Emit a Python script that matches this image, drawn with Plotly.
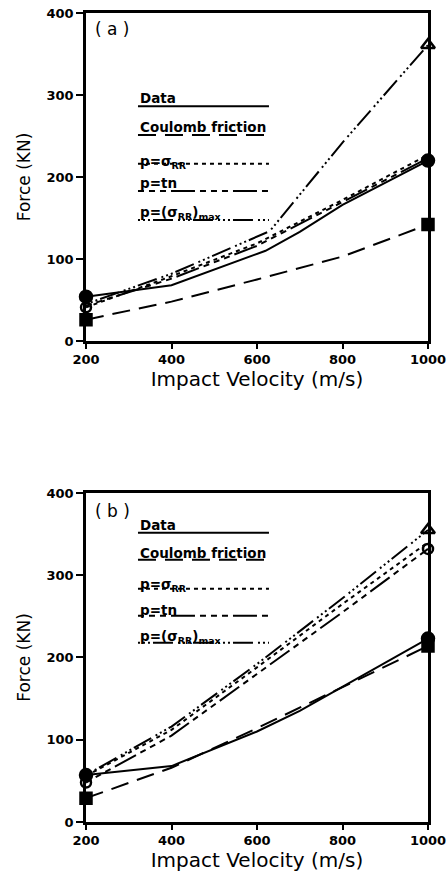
import plotly.graph_objects as go
from plotly.subplots import make_subplots

# ---- Panel (a): force vs impact velocity ----
data_a_v = [200, 300, 400, 620, 700, 800, 1000]
data_a_f = [54, 61, 68, 110, 133, 166, 220]
coul_a_v = [200, 400, 600, 800, 1000]
coul_a_f = [26, 48, 75, 103, 142]
sig_a_v = [200, 400, 600, 800, 1000]
sig_a_f = [41, 79, 119, 172, 227]
tn_a_v = [200, 400, 600, 800, 1000]
tn_a_f = [43, 76, 116, 169, 223]
smax_a_v = [200, 400, 630, 800, 1000]
smax_a_f = [45, 82, 134, 242, 361]

# ---- Panel (b) ----
data_b_v = [200, 400, 600, 700, 1000]
data_b_f = [57, 68, 110, 135, 223]
coul_b_v = [200, 400, 600, 1000]
coul_b_f = [29, 66, 114, 214]
sig_b_v = [200, 400, 600, 800, 1000]
sig_b_f = [56, 112, 188, 265, 340]
tn_b_v = [200, 400, 600, 800, 1000]
tn_b_f = [48, 105, 180, 255, 332]
smax_b_v = [200, 400, 600, 800, 1000]
smax_b_f = [57, 116, 192, 272, 355]

x_ticks = [200, 400, 600, 800, 1000]
y_ticks = [0, 100, 200, 300, 400]

legend_labels = ["Data", "Coulomb friction", "p=σ<sub>RR</sub>", "p=tn",
                 "p=(σ<sub>RR</sub>)<sub>max</sub>"]

DASH = {
    "data": "solid",
    "coul": "18px,9px",
    "sig": "4px,4px",
    "tn": "6px,5px,6px,5px,6px,5px,24px,5px",
    "smax": "2px,3px,2px,3px,2px,3px,20px,5px",
}

FONT = "DejaVu Sans"

fig = make_subplots(rows=2, cols=1, vertical_spacing=0.188)


def add_panel(row, series, markers):
    for (v, f, key) in series:
        fig.add_trace(go.Scatter(x=v, y=f, mode="lines",
                                 line=dict(color="black", width=2, dash=DASH[key]),
                                 showlegend=False, hoverinfo="skip"),
                      row=row, col=1)
    for (xs, ys, sym, size) in markers:
        fig.add_trace(go.Scatter(x=xs, y=ys, mode="markers",
                                 marker=dict(symbol=sym, size=size, color="black",
                                             line=dict(color="black", width=2.5)),
                                 showlegend=False, hoverinfo="skip",
                                 cliponaxis=False),
                      row=row, col=1)


add_panel(1,
          [(coul_a_v, coul_a_f, "coul"), (sig_a_v, sig_a_f, "sig"),
           (tn_a_v, tn_a_f, "tn"), (smax_a_v, smax_a_f, "smax"),
           (data_a_v, data_a_f, "data")],
          [([sig_a_v[0]], [sig_a_f[0]], "circle-open", 10),
           ([smax_a_v[-1]], [smax_a_f[-1]], "triangle-up-open", 12),
           ([coul_a_v[0], coul_a_v[-1]], [coul_a_f[0], coul_a_f[-1]], "square", 11),
           ([data_a_v[0], data_a_v[-1]], [data_a_f[0], data_a_f[-1]], "circle", 12)])

add_panel(2,
          [(coul_b_v, coul_b_f, "coul"), (sig_b_v, sig_b_f, "sig"),
           (tn_b_v, tn_b_f, "tn"), (smax_b_v, smax_b_f, "smax"),
           (data_b_v, data_b_f, "data")],
          [([tn_b_v[0], tn_b_v[-1]], [tn_b_f[0], tn_b_f[-1]], "circle-open", 10),
           ([smax_b_v[-1]], [smax_b_f[-1]], "triangle-up-open", 12),
           ([coul_b_v[0], coul_b_v[-1]], [coul_b_f[0], coul_b_f[-1]], "square", 11),
           ([data_b_v[0], data_b_v[-1]], [data_b_f[0], data_b_f[-1]], "circle", 12)])

axis_common = dict(showline=True, linecolor="black", linewidth=2.5, mirror=True,
                   ticks="outside", tickwidth=2, tickcolor="black",
                   showgrid=False, zeroline=False, automargin=False,
                   tickfont=dict(family=FONT, size=13, color="black", weight=700))

for r in (1, 2):
    fig.update_xaxes(range=[200, 1000], tickvals=x_ticks, ticklen=5,
                     title=dict(text="Impact Velocity (m/s)",
                                font=dict(family=FONT, size=20, color="black"),
                                standoff=2),
                     row=r, col=1, **axis_common)
    fig.update_yaxes(range=[0, 400], tickvals=y_ticks, ticklen=7,
                     title=dict(text="Force (KN)",
                                font=dict(family=FONT, size=17, color="black"),
                                standoff=12),
                     row=r, col=1, **axis_common)

fig.update_yaxes(domain=[0.5946, 1.0], row=1, col=1)
fig.update_yaxes(domain=[0.0, 0.4067], row=2, col=1)

# in-plot key: label text with its line sample running along the baseline
legend_pos = {
    1: dict(text_y=[0.741, 0.652, 0.546, 0.482, 0.390],
            line_y=[0.716, 0.628, 0.540, 0.457, 0.369]),
    2: dict(text_y=[0.904, 0.819, 0.721, 0.645, 0.563],
            line_y=[0.879, 0.797, 0.709, 0.627, 0.545]),
}
keys = ["data", "coul", "sig", "tn", "smax"]
for r, ax in ((1, ""), (2, "2")):
    xr = f"x{ax} domain"
    yr = f"y{ax} domain"
    for lab, key, ty, ly in zip(legend_labels, keys,
                                legend_pos[r]["text_y"], legend_pos[r]["line_y"]):
        fig.add_annotation(x=0.152, y=ty, xref=xr, yref=yr, text=lab,
                           showarrow=False, xanchor="left", yanchor="middle",
                           font=dict(family=FONT, size=13.5, color="black", weight=700))
        fig.add_shape(type="line", x0=0.152, x1=0.535, y0=ly, y1=ly,
                      xref=xr, yref=yr,
                      line=dict(color="black", width=2, dash=DASH[key]))
    fig.add_annotation(x=0.02, y=0.95 if r == 1 else 0.945, xref=xr, yref=yr,
                       text="( " + ("a" if r == 1 else "b") + " )",
                       showarrow=False, xanchor="left", yanchor="middle",
                       font=dict(family=FONT, size=17, color="black"))

fig.update_layout(width=448, height=880,
                  margin=dict(l=86, r=20, t=13, b=58, autoexpand=False),
                  paper_bgcolor="white", plot_bgcolor="white",
                  showlegend=False)

fig.write_html("out.html")
